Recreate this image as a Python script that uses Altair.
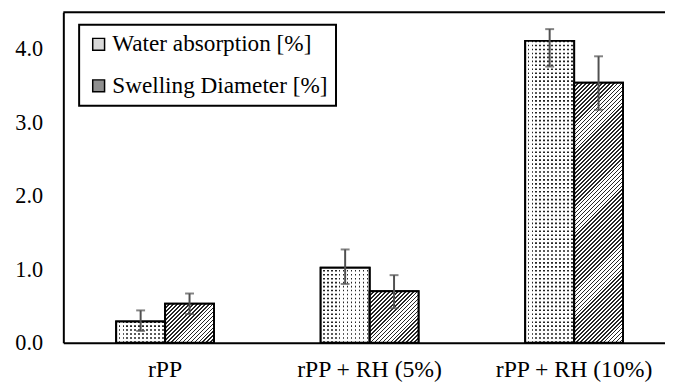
import altair as alt
import pandas as pd

# ---- data ----
categories = ["rPP", "rPP + RH (5%)", "rPP + RH (10%)"]
series = ["Water absorption [%]", "Swelling Diameter [%]"]
water = [0.29, 1.02, 4.11]
water_lo = [0.16, 0.80, 3.76]
water_hi = [0.44, 1.27, 4.27]
swell = [0.53, 0.70, 3.54]
swell_lo = [0.39, 0.47, 3.17]
swell_hi = [0.67, 0.92, 3.90]
y_ticks = [0, 1, 2, 3, 4]
y_max = 4.5

rows = []
for i, c in enumerate(categories):
    rows.append(dict(cat=c, series=series[0], value=water[i], lo=water_lo[i], hi=water_hi[i]))
    rows.append(dict(cat=c, series=series[1], value=swell[i], lo=swell_lo[i], hi=swell_hi[i]))
df = pd.DataFrame(rows)
df["idx"] = range(len(df))
df["zero"] = 0.0

# ---- layout ----
W, H = 609, 334.5
step = 207.0
bandw = 99.0
p_in = 1 - bandw / step
outer = W - 2 * step - bandw
p_out = outer / (2 * step)
align = 53.5 / outer
px_per_unit = H / y_max
bar_w = bandw / 2

FONT = "'Liberation Serif', 'Times New Roman', serif"
DARK = "#262626"
CLEAR = "rgba(255,255,255,0)"


def stripe_stops(L, period, frac, c_on, c_off):
    stops = []
    k = 0
    while k * period < L:
        a = k * period / L
        b = min((k * period + frac * period) / L, 1.0)
        c = min((k + 1) * period / L, 1.0)
        stops += [
            {"offset": a, "color": c_on},
            {"offset": b, "color": c_on},
            {"offset": b, "color": c_off},
            {"offset": c, "color": c_off},
        ]
        k += 1
    return stops


def slash_gradient(w, h, period, frac, c_on, c_off):
    # stripes running bottom-left -> top-right, t = (x+y)/(w+h)
    L = w + h
    s = L / (w * w + h * h)
    return {"gradient": "linear", "x1": 0, "y1": 0, "x2": w * s, "y2": h * s,
            "stops": stripe_stops(L, period, frac, c_on, c_off)}


def vertical_mask(w, period, gap):
    # white columns with transparent gaps, t = x/w
    return {"gradient": "linear", "x1": 0, "y1": 0, "x2": 1, "y2": 0,
            "stops": stripe_stops(w, period, 1 - gap / period, "white", CLEAR)}


x_enc = alt.X("cat:N", sort=categories,
              scale=alt.Scale(paddingInner=p_in, paddingOuter=p_out, align=align),
              axis=alt.Axis(title=None, labelAngle=0, ticks=False, labelPadding=15,
                            labelFontSize=24, labelFont=FONT, labelColor="black",
                            domainColor="black", domainWidth=2))
xo_enc = alt.XOffset("series:N", sort=series,
                     scale=alt.Scale(domain=series, paddingInner=0, paddingOuter=0))
y_enc = alt.Y("value:Q", scale=alt.Scale(domain=[0, y_max], nice=False),
              axis=alt.Axis(values=y_ticks, format=".1f", title=None, ticks=False,
                            labelPadding=21, labelFontSize=22.5, labelFont=FONT,
                            labelColor="black", grid=False,
                            domainColor="black", domainWidth=2))

base = alt.Chart(df).mark_bar(stroke="black", strokeWidth=2).encode(
    x=x_enc, xOffset=xo_enc, y=y_enc,
    fill=alt.Fill("series:N", sort=series,
                  scale=alt.Scale(domain=series, range=["#d9d9d9", "#8f8f8f"]),
                  legend=alt.Legend(orient="none", legendX=16, legendY=12.7, title=None,
                                    strokeColor="black", fillColor="white", padding=8,
                                    labelFont=FONT, labelFontSize=23.5, labelColor="black",
                                    labelLimit=400,
                                    symbolType="square", symbolSize=144,
                                    symbolStrokeColor="black", symbolStrokeWidth=1.5,
                                    rowPadding=17, labelOffset=2)),
)

dots_src = alt.Chart(df).transform_filter(alt.datum.series == series[0])
dot_white = dots_src.mark_bar(fill="white", strokeWidth=0).encode(x=x_enc, xOffset=xo_enc, y=y_enc)
dot_rows = dots_src.mark_rule(color=DARK, strokeWidth=bar_w, strokeDash=[1.6, 2.4]).encode(
    x=x_enc, xOffset=xo_enc, y=alt.Y("zero:Q"), y2="value:Q")
dot_mask = dots_src.mark_bar(fill=vertical_mask(bar_w, 4.0, 1.6), strokeWidth=0).encode(
    x=x_enc, xOffset=xo_enc, y=y_enc)

layers = [base, dot_white, dot_rows, dot_mask]
for r in df.itertuples():
    if r.series != series[1]:
        continue
    h = r.value * px_per_unit
    sel = alt.Chart(df).transform_filter(alt.datum.idx == int(r.idx))
    g = slash_gradient(bar_w, h, 4.0, 0.42, DARK, "white")
    layers.append(sel.mark_bar(fill=g, strokeWidth=0).encode(x=x_enc, xOffset=xo_enc, y=y_enc))

outline = alt.Chart(df).mark_bar(fill="white", fillOpacity=0, stroke="black", strokeWidth=2).encode(
    x=x_enc, xOffset=xo_enc, y=y_enc)
err = alt.Chart(df).mark_rule(color="#505050", strokeWidth=2).encode(
    x=x_enc, xOffset=xo_enc, y=alt.Y("lo:Q"), y2="hi:Q")
cap_lo = alt.Chart(df).mark_tick(color="#505050", size=9, thickness=2).encode(
    x=x_enc, xOffset=xo_enc, y=alt.Y("lo:Q"))
cap_hi = alt.Chart(df).mark_tick(color="#505050", size=9, thickness=2).encode(
    x=x_enc, xOffset=xo_enc, y=alt.Y("hi:Q"))
top = alt.Chart(pd.DataFrame({"v": [y_max]})).mark_rule(color="black", strokeWidth=2).encode(
    y=alt.Y("v:Q"))

chart = alt.layer(*layers, outline, err, cap_lo, cap_hi, top).properties(
    width=W, height=H,
    autosize=alt.AutoSizeParams(type="none"),
    padding={"left": 56, "top": 2, "right": 0, "bottom": 40},
).configure_view(stroke=None).configure(font=FONT).configure_legend(strokeWidth=2)

chart.save("out.html", embed_options={"renderer": "svg", "actions": False})
